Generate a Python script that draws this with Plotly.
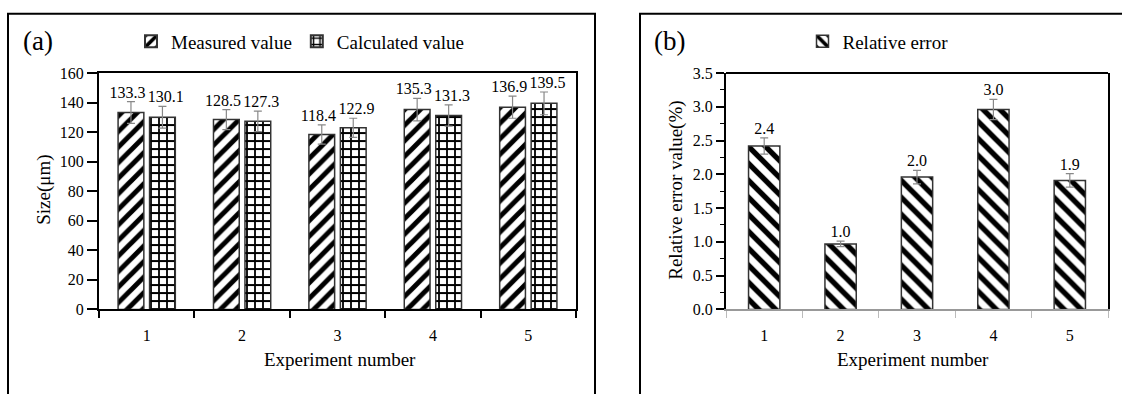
import plotly.graph_objects as go

# ---------------- data ----------------
experiments = [1, 2, 3, 4, 5]
measured = [133.3, 128.5, 118.4, 135.3, 136.9]
measured_err = [7.4, 6.8, 6.5, 7.6, 7.5]
calculated = [130.1, 127.3, 122.9, 131.3, 139.5]
calculated_err = [7.4, 6.9, 6.5, 7.2, 7.7]
rel_error = [2.42, 0.97, 1.96, 2.96, 1.91]
rel_error_err = [0.12, 0.04, 0.10, 0.15, 0.10]

W, H = 1122, 394
FONT = "Times New Roman, Liberation Serif, serif"

def px_x(p):
    return p / W

def px_y(p):
    return 1 - p / H

BAR_W = 0.27
OFF = 0.165
LBL_SHIFT = 0.035

fig = go.Figure()

# ---------- panel (a) ----------
xm = [e - OFF for e in experiments]
xc = [e + OFF for e in experiments]
fig.add_trace(go.Bar(
    x=xm, y=measured, width=BAR_W, name="Measured value",
    marker=dict(color="white", line=dict(color="#333", width=1.5),
                pattern=dict(shape="/", fgcolor="black", bgcolor="white", fgopacity=1,
                             fillmode="replace", size=11, solidity=0.45)),
    error_y=dict(type="data", array=measured_err, color="#888", thickness=1.2, width=4),
    xaxis="x", yaxis="y", legend="legend"))
fig.add_trace(go.Bar(
    x=xc, y=calculated, width=BAR_W, name="Calculated value",
    marker=dict(color="white", line=dict(color="#333", width=1.5),
                pattern=dict(shape="+", fgcolor="black", bgcolor="white", fgopacity=1,
                             fillmode="replace", size=8, solidity=0.4)),
    error_y=dict(type="data", array=calculated_err, color="#888", thickness=1.2, width=4),
    xaxis="x", yaxis="y", legend="legend"))
fig.add_trace(go.Scatter(
    x=[x - LBL_SHIFT for x in xm] + [x + LBL_SHIFT for x in xc],
    y=[v + e for v, e in zip(measured, measured_err)] + [v + e for v, e in zip(calculated, calculated_err)],
    text=[f"{v:.1f}" for v in measured] + [f"{v:.1f}" for v in calculated],
    mode="text", textposition="top center", textfont=dict(family=FONT, size=16, color="black"),
    showlegend=False, cliponaxis=False, hoverinfo="skip", xaxis="x", yaxis="y"))

# ---------- panel (b) ----------
fig.add_trace(go.Bar(
    x=experiments, y=rel_error, width=0.41, name="Relative error",
    marker=dict(color="white", line=dict(color="#333", width=1.5),
                pattern=dict(shape="\\", fgcolor="black", bgcolor="white", fgopacity=1,
                             fillmode="replace", size=12, solidity=0.45)),
    error_y=dict(type="data", array=rel_error_err, color="#888", thickness=1.2, width=4),
    xaxis="x2", yaxis="y2", legend="legend2"))
fig.add_trace(go.Scatter(
    x=experiments, y=[v + e for v, e in zip(rel_error, rel_error_err)],
    text=[f"{v:.1f}" for v in rel_error],
    mode="text", textposition="top center", textfont=dict(family=FONT, size=16, color="black"),
    showlegend=False, cliponaxis=False, hoverinfo="skip", xaxis="x2", yaxis="y2"))

tickfont = dict(family=FONT, size=16, color="black")
ydom = [px_y(315), px_y(68)]

fig.update_layout(
    width=W, height=H, margin=dict(l=0, r=0, t=0, b=0),
    paper_bgcolor="white", plot_bgcolor="white",
    font=dict(family=FONT, color="black"),
    showlegend=True,
    xaxis=dict(domain=[px_x(99), px_x(576)], range=[0.5, 5.5], tickvals=experiments,
               ticks="", ticklabelstandoff=10, tickfont=tickfont,
               showline=True, linecolor="black", linewidth=2, mirror=True,
               showgrid=False, zeroline=False,
               minor=dict(tick0=0.5, dtick=1, ticks="outside", ticklen=7, tickwidth=1.5, tickcolor="black")),
    yaxis=dict(domain=ydom, range=[0, 160], dtick=20, ticks="outside", ticklen=10, tickwidth=1.5,
               tickcolor="black", tickfont=tickfont,
               showline=True, linecolor="black", linewidth=2, mirror=True,
               showgrid=False, zeroline=False),
    xaxis2=dict(domain=[px_x(726), px_x(1108)], range=[0.5, 5.5], tickvals=experiments,
                ticks="", ticklabelstandoff=10, tickfont=tickfont, anchor="y2",
                showline=True, linecolor="#999", linewidth=2, mirror=False,
                showgrid=False, zeroline=False,
                minor=dict(tick0=0.5, dtick=1, ticks="outside", ticklen=7, tickwidth=1, tickcolor="#bbb")),
    yaxis2=dict(domain=ydom, range=[0, 3.5], dtick=0.5, tickformat=".1f", anchor="x2",
                ticks="outside", ticklen=8, tickwidth=1.5, tickcolor="black", tickfont=tickfont,
                showline=True, linecolor="black", linewidth=2, mirror=True,
                showgrid=False, zeroline=False,
                minor=dict(dtick=0.25, ticks="outside", ticklen=4, tickwidth=1, tickcolor="black")),
    legend=dict(orientation="h", x=px_x(300), xanchor="center", y=px_y(35), yanchor="middle",
                font=dict(family=FONT, size=19, color="black"), bgcolor="rgba(0,0,0,0)",
                itemsizing="constant", tracegroupgap=0),
    legend2=dict(orientation="h", x=px_x(878), xanchor="center", y=px_y(35), yanchor="middle",
                 font=dict(family=FONT, size=19, color="black"), bgcolor="rgba(0,0,0,0)"),
    shapes=[
        dict(type="rect", xref="paper", yref="paper", x0=px_x(8), x1=px_x(595), y0=-0.1, y1=px_y(6),
             line=dict(color="black", width=2)),
        dict(type="rect", xref="paper", yref="paper", x0=px_x(640), x1=1.1, y0=-0.1, y1=px_y(6),
             line=dict(color="black", width=2)),
        dict(type="line", xref="x2 domain", yref="y2 domain", x0=0, x1=1, y0=1, y1=1,
             line=dict(color="black", width=2)),
    ],
    annotations=[
        dict(text="(a)", x=px_x(21), y=px_y(34), xref="paper", yref="paper", xanchor="left",
             yanchor="middle", showarrow=False, font=dict(family=FONT, size=27, color="black")),
        dict(text="(b)", x=px_x(652), y=px_y(34), xref="paper", yref="paper", xanchor="left",
             yanchor="middle", showarrow=False, font=dict(family=FONT, size=27, color="black")),
        dict(text="Size(μm)", x=px_x(44), y=px_y(190), xref="paper", yref="paper", textangle=-90,
             xanchor="center", yanchor="middle", showarrow=False, font=dict(family=FONT, size=19, color="black")),
        dict(text="Relative error value(%)", x=px_x(676), y=px_y(191), xref="paper", yref="paper",
             textangle=-90, xanchor="center", yanchor="middle", showarrow=False,
             font=dict(family=FONT, size=19, color="black")),
        dict(text="Experiment number", x=px_x(340), y=px_y(367), xref="paper", yref="paper",
             xanchor="center", yanchor="middle", showarrow=False, font=dict(family=FONT, size=19, color="black")),
        dict(text="Experiment number", x=px_x(913), y=px_y(367), xref="paper", yref="paper",
             xanchor="center", yanchor="middle", showarrow=False, font=dict(family=FONT, size=19, color="black")),
    ],
)

fig.write_html("out.html")
